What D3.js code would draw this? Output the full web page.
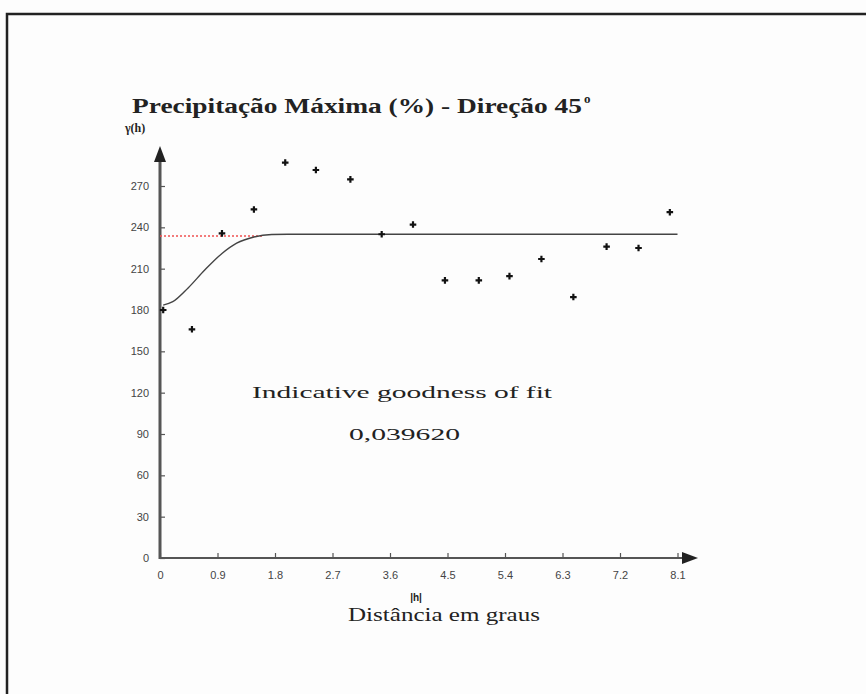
<!DOCTYPE html>
<html>
<head>
<meta charset="utf-8">
<script src="https://cdn.jsdelivr.net/npm/d3@7"></script>
<style>
  body { margin: 0; background: #fdfdfd; }
  svg { display: block; }
</style>
</head>
<body>
<svg id="chart"></svg>
<script>
// experimental semivariogram points (|h|, gamma)
var lagH = [0.05, 0.5, 0.97, 1.47, 1.96, 2.44, 2.98, 3.47, 3.96, 4.46, 4.99, 5.47, 5.97, 6.47, 6.99, 7.49, 7.98]
var gammaV = [180, 166, 235.6, 253, 287, 281.6, 274.8, 235, 242, 201.5, 201.5, 204.6, 217, 189.4, 226, 225, 251]

// fitted model curve
var modelH = [0.05, 0.2, 0.44, 0.7, 0.97, 1.2, 1.47, 1.75, 2.0, 8.1]
var modelV = [183.5, 186, 196, 209, 221, 228.5, 233, 234.8, 235, 235]

// sill reference (red dotted)
var sillH = [0, 1.6]
var sillV = [233.7, 233.7]

var xTicks = [0, 0.9, 1.8, 2.7, 3.6, 4.5, 5.4, 6.3, 7.2, 8.1]
var yTicks = [0, 30, 60, 90, 120, 150, 180, 210, 240, 270]

var dimensions = {
  width: 866,
  height: 694
}

var svg = d3.select("#chart")
  .attr("width", dimensions.width)
  .attr("height", dimensions.height)

// outer frame (top and left edges visible)
svg.append("path")
  .attr("d", "M7,694 L7,14 L866,14")
  .attr("fill", "none")
  .attr("stroke", "#222")
  .attr("stroke-width", 2.5)

var xScale = d3.scaleLinear()
  .domain([0, 8.1])
  .range([160, 677.5])

var yScale = d3.scaleLinear()
  .domain([0, 270])
  .range([558, 186])

var axisColor = "#555"
var serif = "Liberation Serif, Times New Roman, serif"
var sans = "Liberation Sans, Arial, sans-serif"

// x axis with ticks pointing up
var xAxisGen = d3.axisBottom(xScale).tickValues(xTicks).tickSize(0).tickPadding(13)
  .tickFormat(d => d === 0 ? "0" : d3.format(".1f")(d))
var xAxis = svg.append("g")
  .attr("transform", `translate(0,558)`)
  .call(xAxisGen)
xAxis.select(".domain").remove()
xAxis.selectAll("text")
  .attr("font-family", sans)
  .attr("font-size", 11)
  .attr("fill", "#444")
xAxis.selectAll(".tick").append("line")
  .attr("y1", 0).attr("y2", -5)
  .attr("stroke", axisColor).attr("stroke-width", 1.2)

var yAxisGen = d3.axisLeft(yScale).tickValues(yTicks).tickSize(0).tickPadding(11)
var yAxis = svg.append("g")
  .attr("transform", `translate(160,0)`)
  .call(yAxisGen)
yAxis.select(".domain").remove()
yAxis.selectAll("text")
  .attr("font-family", sans)
  .attr("font-size", 11)
  .attr("fill", "#444")
yAxis.selectAll(".tick").append("line")
  .attr("x1", 0).attr("x2", 5)
  .attr("stroke", axisColor).attr("stroke-width", 1.2)

// axis lines with arrows
svg.append("line")
  .attr("x1", 160).attr("x2", 160)
  .attr("y1", 559).attr("y2", 156)
  .attr("stroke", axisColor).attr("stroke-width", 3)
svg.append("path")
  .attr("d", "M160,146 L154,162 L166,162 Z")
  .attr("fill", "#222")
svg.append("line")
  .attr("x1", 159).attr("x2", 688)
  .attr("y1", 558).attr("y2", 558)
  .attr("stroke", axisColor).attr("stroke-width", 2)
svg.append("path")
  .attr("d", "M698,558 L682,552 L682,564 Z")
  .attr("fill", "#222")

// red dotted sill line
var sillData = sillH.map((h, i) => [h, sillV[i]])
svg.append("path")
  .datum(sillData)
  .attr("d", d3.line().x(d => xScale(d[0])).y(d => yScale(d[1])))
  .attr("fill", "none")
  .attr("stroke", "#f05050")
  .attr("stroke-width", 1.5)
  .attr("stroke-dasharray", "2,2")

// model curve
var modelData = modelH.map((h, i) => [h, modelV[i]])
svg.append("path")
  .datum(modelData)
  .attr("d", d3.line().x(d => xScale(d[0])).y(d => yScale(d[1])).curve(d3.curveMonotoneX))
  .attr("fill", "none")
  .attr("stroke", "#444")
  .attr("stroke-width", 1.4)

// points
var pts = lagH.map((h, i) => [h, gammaV[i]])
svg.append("g")
  .selectAll("path")
  .data(pts)
  .enter()
  .append("path")
  .attr("transform", d => `translate(${xScale(d[0])},${yScale(d[1])})`)
  .attr("d", d3.symbol().type(d3.symbolCross).size(24))
  .attr("fill", "#111")

// texts
svg.append("text")
  .attr("x", 132).attr("y", 113)
  .attr("font-family", serif)
  .attr("font-weight", "bold")
  .attr("font-size", 20)
  .attr("fill", "#222")
  .attr("textLength", 450)
  .attr("lengthAdjust", "spacingAndGlyphs")
  .text("Precipitação Máxima (%) - Direção 45")
svg.append("text")
  .attr("x", 584).attr("y", 103)
  .attr("font-family", serif)
  .attr("font-weight", "bold")
  .attr("font-size", 13)
  .attr("fill", "#222")
  .text("o")

svg.append("text")
  .attr("x", 125).attr("y", 132)
  .attr("font-family", serif)
  .attr("font-weight", "bold")
  .attr("font-size", 12)
  .attr("fill", "#222")
  .text("γ(h)")

svg.append("text")
  .attr("x", 252).attr("y", 398)
  .attr("font-family", serif)
  .attr("font-size", 17)
  .attr("fill", "#222")
  .attr("textLength", 300)
  .attr("lengthAdjust", "spacingAndGlyphs")
  .text("Indicative goodness of fit")
svg.append("text")
  .attr("x", 349).attr("y", 440)
  .attr("font-family", serif)
  .attr("font-size", 17)
  .attr("fill", "#222")
  .attr("textLength", 111)
  .attr("lengthAdjust", "spacingAndGlyphs")
  .text("0,039620")

svg.append("text")
  .attr("x", 416).attr("y", 601)
  .attr("text-anchor", "middle")
  .attr("font-family", sans)
  .attr("font-weight", "bold")
  .attr("font-size", 10)
  .attr("fill", "#222")
  .text("|h|")
svg.append("text")
  .attr("x", 348).attr("y", 621)
  .attr("font-family", serif)
  .attr("font-size", 18)
  .attr("fill", "#222")
  .attr("textLength", 192)
  .attr("lengthAdjust", "spacingAndGlyphs")
  .text("Distância em graus")
</script>
</body>
</html>
